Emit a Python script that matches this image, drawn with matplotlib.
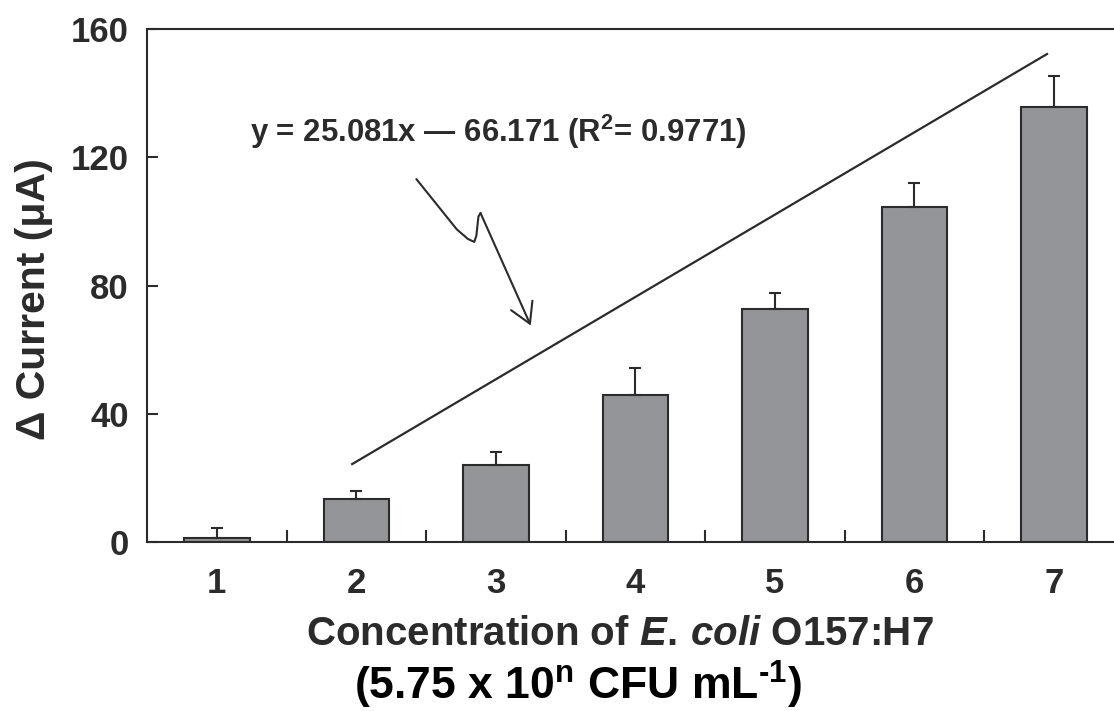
import matplotlib.pyplot as plt
import numpy as np

plt.rcParams['font.family'] = ['Liberation Sans', 'DejaVu Sans']
plt.rcParams['font.weight'] = 'bold'
plt.rcParams['mathtext.fontset'] = 'custom'
plt.rcParams['mathtext.rm'] = 'Liberation Sans:bold'
plt.rcParams['mathtext.bf'] = 'Liberation Sans:bold'
plt.rcParams['mathtext.it'] = 'Liberation Sans:bold:italic'
plt.rcParams['mathtext.bfit'] = 'Liberation Sans:bold:italic'

# data
conc = [1, 2, 3, 4, 5, 6, 7]
current = [1.2, 13.5, 24.0, 45.8, 72.7, 104.5, 135.7]
err = [3.2, 2.5, 4.2, 8.5, 5.0, 7.5, 9.6]

# hand-drawn trend line and squiggly pointer
trend_x = [1.97, 6.95]
trend_y = [24.3, 152.2]
arrow_x = [2.43, 2.60, 2.72, 2.80, 2.845, 2.86, 2.875, 2.89]
arrow_y = [113.2, 104.0, 97.5, 94.5, 93.6, 95.5, 101.5, 102.6]
arrow_tip = (3.25, 67.5)

ink = '#2b2b2b'

fig = plt.figure(figsize=(11.14, 7.11), dpi=100)
ax = fig.add_axes([0.132, 0.2377, 0.868, 0.7215])

ax.bar(conc, current, width=0.47, color='#939598', edgecolor=ink, linewidth=1.5, zorder=2)
ax.errorbar(conc, current, yerr=[np.zeros(len(err)), err], fmt='none', ecolor=ink,
            elinewidth=1.5, capsize=4.5, capthick=1.5, zorder=3)

ax.plot(trend_x, trend_y, color=ink, lw=1.6)
ax.plot(arrow_x, arrow_y, color=ink, lw=1.5, solid_capstyle='round', solid_joinstyle='round')
ax.annotate('', xy=arrow_tip, xytext=(arrow_x[-1], arrow_y[-1]),
            arrowprops=dict(arrowstyle='->,head_length=0.6,head_width=0.35', color=ink,
                            lw=1.5, mutation_scale=24, shrinkA=0, shrinkB=0))

ax.text(1.24, 128, r'y = 25.081x — 66.171 (R$^{2}$= 0.9771)', fontsize=22.4,
        color=ink, va='center', ha='left')

ax.set_xlim(0.5, 7.43)
ax.set_ylim(0, 160)
ax.set_yticks([0, 40, 80, 120, 160])
ax.set_xticks(conc)
ax.set_xticks([1.5, 2.5, 3.5, 4.5, 5.5, 6.5], minor=True)
ax.tick_params(axis='y', direction='in', length=8, width=1.5, color=ink,
               labelsize=25, pad=13, labelcolor=ink)
ax.tick_params(axis='x', which='major', length=0, labelsize=25, pad=18, labelcolor=ink)
ax.tick_params(axis='x', which='minor', direction='in', length=9, width=1.5, color=ink)

for s in ['left', 'bottom', 'top']:
    ax.spines[s].set_linewidth(1.5)
    ax.spines[s].set_color(ink)
ax.spines['right'].set_visible(False)

ax.set_ylabel('Δ Current (μA)', fontsize=29.5, color=ink, fontweight='bold')
ax.yaxis.set_label_coords(-0.097, 0.474)

fig.text(0.556, 0.108, r'Concentration of $E.\,coli$ O157:H7', fontsize=29,
         color=ink, ha='center', va='center', fontweight='bold')
fig.text(0.519, 0.036, r'(5.75 x 10$^{\mathrm{n}}$ CFU mL$^{\text{-1}}$)', fontsize=32,
         color='black', ha='center', va='center', fontweight='bold')

fig.savefig('out.png', dpi=100)
